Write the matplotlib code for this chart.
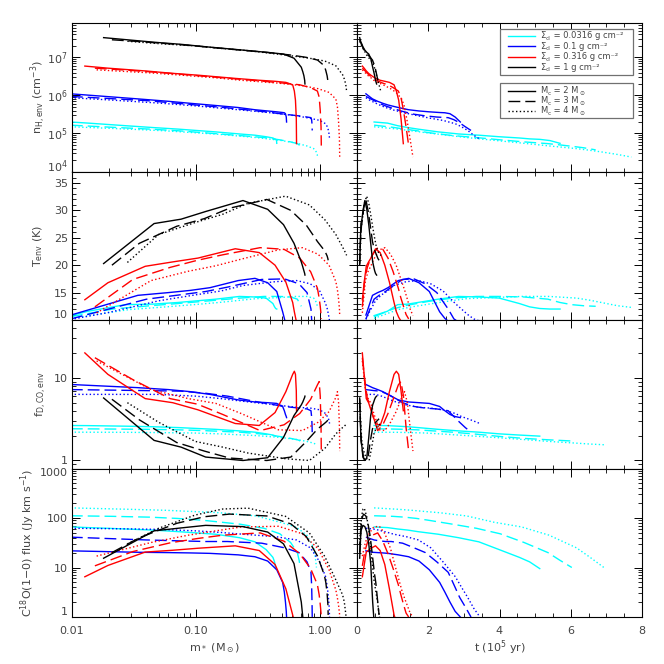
import numpy as np
import matplotlib
matplotlib.use('Agg')
import matplotlib.pyplot as plt
from matplotlib.ticker import (FixedLocator, FixedFormatter, LogLocator, MultipleLocator,
                               NullFormatter, LogFormatterMathtext, FormatStrFormatter)
from matplotlib.lines import Line2D
from matplotlib.patches import Rectangle

nan = np.nan

# ---------------- data: Sigma_cl = 1 g cm^-2 (black) ----------------
S4_M2_t = [0.075, 0.11, 0.14, 0.165, 0.22, 0.275, 0.33, 0.385, 0.44, 0.47, 0.495, 0.52, 0.55]
S4_M2_m = [0.018, 0.046, 0.076, 0.12, 0.24, 0.38, 0.51, 0.62, 0.71, 0.73, 0.745, 0.756, 0.76]
S4_M2_n = [3.3e7, 2.5e7, 2.2e7, 1.9e7, 1.55e7, 1.35e7, 1.22e7, 9.5e6, 5.5e6, 4.2e6, 3.3e6, 2.5e6, 2.0e6]
S4_M2_T = [20.3, 27.6, 28.4, 29.8, 31.8, 30.2, 27.4, 24.0, 20.6, 19.7, 19.0, 18.5, 18.2]
S4_M2_f = [5.7, 1.75, 1.45, 1.1, 1.0, 1.08, 1.9, 3.5, 4.7, 5.1, 5.5, 5.8, 6.0]
S4_M2_F = [15.4, 55, 63, 71, 67, 52, 30, 12, 2.0, 1.0, 0.7, 0.5, 0.4]

S4_M3_t = [0.075, 0.093, 0.124, 0.155, 0.186, 0.248, 0.31, 0.372, 0.434, 0.496, 0.527, 0.558, 0.589, 0.62]
S4_M3_m = [0.021, 0.035, 0.07, 0.117, 0.187, 0.374, 0.585, 0.78, 0.96, 1.09, 1.12, 1.147, 1.164, 1.17]
S4_M3_n = [2.9e7, 2.6e7, 2.2e7, 1.9e7, 1.65e7, 1.35e7, 1.15e7, 1.0e7, 8.5e6, 6.0e6, 4.5e6, 3.3e6, 2.4e6, 2.0e6]
S4_M3_T = [20.0, 24.0, 27.1, 28.5, 30.4, 32.0, 30.0, 27.3, 24.3, 22.7, 22.2, 21.7, 21.2, 20.9]
S4_M3_f = [5.5, 3.1, 1.65, 1.3, 1.07, 1.0, 1.1, 1.7, 2.4, 2.8, 2.9, 3.0, 3.1, 3.2]
S4_M3_F = [20, 40, 78, 106, 120, 110, 76, 42, 17, 7, 5, 3, 1.8, 1.1]

S4_M4_t = [0.075, 0.102, 0.136, 0.17, 0.204, 0.272, 0.34, 0.408, 0.476, 0.544, 0.578, 0.612, 0.646, 0.68]
S4_M4_m = [0.028, 0.05, 0.099, 0.165, 0.264, 0.53, 0.825, 1.1, 1.35, 1.53, 1.58, 1.62, 1.64, 1.65]
S4_M4_n = [2.65e7, 2.3e7, 2.0e7, 1.7e7, 1.5e7, 1.15e7, 9.5e6, 8.0e6, 6.0e6, 3.5e6, 2.7e6, 2.0e6, 1.5e6, 1.2e6]
S4_M4_T = [20.5, 25.6, 27.8, 29.3, 31.3, 32.6, 31.0, 28.3, 25.6, 23.3, 22.7, 22.2, 21.9, 21.8]
S4_M4_f = [5.0, 2.9, 1.7, 1.45, 1.23, 1.05, 1.0, 1.4, 2.1, 2.5, 2.6, 2.7, 2.75, 2.8]
S4_M4_F = [30, 62, 115, 152, 158, 108, 50, 16.6, 5.6, 2.8, 2.0, 1.2, 0.9, 0.7]

# ---------------- Sigma_cl = 0.316 g cm^-2 (red) ----------------
S3_M2_t = [0.15, 0.2, 0.26, 0.325, 0.39, 0.52, 0.65, 0.78, 0.91, 1.04, 1.105, 1.17, 1.235, 1.3]
S3_M2_m = [0.0127, 0.0195, 0.039, 0.065, 0.104, 0.208, 0.325, 0.436, 0.533, 0.605, 0.624, 0.637, 0.647, 0.65]
S3_M2_n = [5.9e6, 5.2e6, 4.4e6, 3.8e6, 3.4e6, 2.8e6, 2.5e6, 2.35e6, 2.2e6, 1.9e6, 1.3e6, 7.5e5, 2.5e5, 5.4e4]
S3_M2_T = [13.7, 16.8, 19.8, 20.6, 21.3, 23.0, 22.3, 20.0, 16.9, 13.2, 11.5, 10.5, 9.8, 9.5]
S3_M2_f = [20.0, 11.0, 5.6, 5.0, 4.1, 2.8, 2.65, 3.8, 6.8, 11.0, 12.0, 11.0, 7.0, 4.0]
S3_M2_F = [6.5, 11.0, 20.5, 22.3, 24.5, 27.4, 22.0, 11.5, 3.7, 1.1, 0.8, 0.6, 0.5, 0.4]

S3_M3_t = [0.15, 0.2175, 0.29, 0.3625, 0.435, 0.58, 0.725, 0.87, 1.015, 1.16, 1.2325, 1.305, 1.3775, 1.45]
S3_M3_m = [0.0153, 0.031, 0.062, 0.103, 0.165, 0.33, 0.515, 0.69, 0.845, 0.958, 0.99, 1.01, 1.025, 1.03]
S3_M3_n = [5.2e6, 4.5e6, 3.8e6, 3.3e6, 2.9e6, 2.4e6, 2.1e6, 1.9e6, 1.6e6, 1.3e6, 9e5, 4e5, 1.5e5, 4.8e4]
S3_M3_T = [12.4, 17.4, 19.6, 20.9, 21.9, 23.2, 22.9, 21.3, 18.8, 15.8, 14.0, 12.5, 11.0, 10.2]
S3_M3_f = [17.5, 9.5, 5.6, 4.8, 3.6, 2.3, 2.7, 3.7, 5.5, 8.2, 9.0, 6.0, 2.5, 1.3]
S3_M3_F = [10.8, 21, 31.5, 38.5, 45, 50, 34, 19, 9.5, 4.5, 2.8, 1.8, 1.2, 1.0]

S3_M4_t = [0.15, 0.2355, 0.314, 0.3925, 0.471, 0.628, 0.785, 0.942, 1.099, 1.256, 1.3345, 1.413, 1.4915, 1.57]
S3_M4_m = [0.0158, 0.0435, 0.087, 0.145, 0.232, 0.464, 0.725, 0.97, 1.19, 1.35, 1.39, 1.42, 1.443, 1.45]
S3_M4_n = [4.7e6, 3.9e6, 3.3e6, 2.9e6, 2.5e6, 2.1e6, 1.8e6, 1.5e6, 1.2e6, 8e5, 5e5, 2e5, 7e4, 2.4e4]
S3_M4_T = [11.3, 17.2, 18.9, 19.9, 21.1, 22.8, 23.2, 22.0, 20.0, 17.0, 15.5, 13.8, 12.0, 10.8]
S3_M4_f = [16.0, 7.2, 5.6, 4.9, 3.7, 2.35, 2.3, 2.9, 3.9, 5.8, 6.8, 5.0, 2.5, 1.3]
S3_M4_F = [17, 32, 45, 55, 66, 68, 48, 24, 9.0, 3.5, 2.4, 1.7, 1.2, 1.0]

# ---------------- Sigma_cl = 0.1 g cm^-2 (blue) ----------------
S2_M2_t = [0.25, 0.435, 0.58, 0.725, 0.87, 1.16, 1.45, 1.74, 2.03, 2.32, 2.465, 2.61, 2.755, 2.9]
S2_M2_m = [0.0098, 0.034, 0.06, 0.09, 0.13, 0.22, 0.3, 0.38, 0.45, 0.502, 0.518, 0.529, 0.537, 0.54]
S2_M2_n = [1.1e6, 8.1e5, 7.0e5, 6.2e5, 5.6e5, 4.8e5, 4.2e5, 3.9e5, 3.7e5, 3.55e5, 3.5e5, 3.3e5, 2.7e5, 2.0e5]
S2_M2_T = [10.9, 14.5, 15.0, 15.4, 15.9, 17.2, 17.6, 16.8, 15.2, 11.5, 10.3, 9.5, 9.0, 8.5]
S2_M2_f = [8.3, 7.6, 7.2, 6.8, 6.3, 5.4, 5.1, 5.0, 4.9, 4.5, 4.0, 3.6, 3.4, 3.3]
S2_M2_F = [21.7, 20.3, 20.0, 19.7, 19.3, 18.0, 16.5, 13.5, 9.0, 5.0, 3.2, 2.0, 1.3, 1.0]

S2_M3_t = [0.25, 0.48, 0.64, 0.8, 0.96, 1.28, 1.6, 1.92, 2.24, 2.56, 2.72, 2.88, 3.04, 3.2]
S2_M3_m = [0.0098, 0.04, 0.075, 0.12, 0.18, 0.34, 0.52, 0.68, 0.79, 0.85, 0.86, 0.865, 0.868, 0.87]
S2_M3_n = [9.4e5, 7.3e5, 6.1e5, 5.3e5, 4.7e5, 3.8e5, 3.2e5, 2.9e5, 2.7e5, 2.6e5, 2.3e5, 1.9e5, 1.5e5, 1.2e5]
S2_M3_T = [10.2, 13.8, 14.6, 15.2, 16.0, 17.4, 17.5, 16.6, 15.0, 12.0, 10.2, 9.5, 9.0, 8.5]
S2_M3_f = [7.2, 7.0, 6.9, 6.5, 6.0, 5.0, 4.5, 4.3, 4.2, 4.0, 3.4, 2.9, 2.5, 2.2]
S2_M3_F = [41, 36, 34.5, 33.5, 33.5, 31, 25, 20, 13, 8, 4.5, 2.5, 1.6, 1.0]

S2_M4_t = [0.25, 0.345, 0.5175, 0.69, 0.8625, 1.035, 1.38, 1.725, 2.07, 2.415, 2.76, 2.9325, 3.105, 3.2775, 3.45]
S2_M4_m = [0.0098, 0.02, 0.05, 0.1, 0.16, 0.24, 0.44, 0.65, 0.84, 1.0, 1.116, 1.152, 1.176, 1.194, 1.2]
S2_M4_n = [8.7e5, 7.6e5, 6.3e5, 5.3e5, 4.6e5, 4.1e5, 3.4e5, 2.9e5, 2.5e5, 2.2e5, 1.8e5, 1.5e5, 1.2e5, 9e4, 7e4]
S2_M4_T = [10.1, 11.4, 13.5, 14.6, 15.3, 16.3, 17.0, 17.2, 16.6, 15.3, 13.0, 12.0, 11.0, 10.2, 9.8]
S2_M4_f = [6.3, 6.3, 6.3, 6.0, 5.6, 5.2, 4.7, 4.4, 4.3, 4.1, 3.7, 3.4, 3.2, 3.0, 2.8]
S2_M4_F = [62, 61, 59, 55, 51, 47, 42, 36, 25, 13, 6.5, 4.0, 2.5, 1.5, 1.0]

# ---------------- Sigma_cl = 0.0316 g cm^-2 (cyan) ----------------
S1_M2_t = [0.48, 0.855, 1.14, 1.425, 1.71, 2.28, 2.85, 3.42, 3.99, 4.56, 4.845, 5.13, 5.415, 5.7]
S1_M2_m = [0.0098, 0.0135, 0.027, 0.045, 0.072, 0.144, 0.225, 0.3, 0.369, 0.419, 0.432, 0.441, 0.448, 0.45]
S1_M2_n = [2.0e5, 1.87e5, 1.6e5, 1.43e5, 1.3e5, 1.1e5, 9.7e4, 9.0e4, 8.2e4, 7.6e4, 7.2e4, 7.0e4, 6.5e4, 5.5e4]
S1_M2_T = [10.8, 11.6, 12.8, 12.9, 13.2, 13.8, 14.3, 14.2, 14.0, 13.0, 12.4, 12.1, 12.0, 12.0]
S1_M2_f = [2.65, 2.64, 2.6, 2.56, 2.5, 2.38, 2.28, 2.2, 2.1, 2.03, 2.0, 1.97, nan, nan]
S1_M2_F = [66, 64, 60, 57, 53, 47, 40, 33, 23, 16, 13, 9.5, nan, nan]

S1_M3_t = [0.48, 1.005, 1.34, 1.675, 2.01, 2.68, 3.35, 4.02, 4.69, 5.36, 5.695, 6.03, 6.365, 6.7]
S1_M3_m = [0.0098, 0.0213, 0.0426, 0.071, 0.114, 0.227, 0.355, 0.476, 0.582, 0.66, 0.682, 0.696, 0.706, 0.71]
S1_M3_n = [1.65e5, 1.45e5, 1.3e5, 1.18e5, 1.05e5, 8.8e4, 7.8e4, 6.8e4, 6.0e4, 5.4e4, 5.0e4, 4.6e4, 4.2e4, 3.7e4]
S1_M3_T = [10.6, 12.0, 12.6, 13.0, 13.4, 14.0, 14.3, 14.3, 14.2, 13.8, 13.2, 12.8, 12.6, 12.5]
S1_M3_f = [2.42, 2.4, 2.38, 2.35, 2.3, 2.2, 2.08, 1.95, 1.85, 1.78, 1.75, 1.72, nan, nan]
S1_M3_F = [111, 108, 104, 98, 90, 75, 62, 48, 32, 20, 14, 10, nan, nan]

S1_M4_t = [0.48, 1.155, 1.54, 1.925, 2.31, 3.08, 3.85, 4.62, 5.39, 6.16, 6.545, 6.93, 7.315, 7.7]
S1_M4_m = [0.0098, 0.0288, 0.0576, 0.096, 0.154, 0.307, 0.48, 0.643, 0.787, 0.893, 0.922, 0.941, 0.955, 0.96]
S1_M4_n = [1.5e5, 1.3e5, 1.17e5, 1.05e5, 9.5e4, 7.8e4, 6.6e4, 5.6e4, 4.7e4, 4.0e4, 3.6e4, 3.2e4, 2.8e4, 2.4e4]
S1_M4_T = [10.3, 11.9, 12.4, 12.8, 13.2, 13.9, 14.1, 14.3, 14.3, 14.0, 13.6, 13.1, 12.6, 12.3]
S1_M4_f = [2.2, 2.19, 2.17, 2.15, 2.1, 2.0, 1.9, 1.8, 1.7, 1.62, 1.58, 1.55, nan, nan]
S1_M4_F = [160, 150, 143, 135, 128, 110, 82, 66, 45, 25, 16, 10, nan, nan]

sigma_labels = ['0.0316', '0.1', '0.316', '1']
mc_labels = ['2', '3', '4']

# ---------------- style ----------------
plt.rcParams['font.family'] = ['DejaVu Sans']
plt.rcParams['mathtext.fontset'] = 'dejavusans'
plt.rcParams['lines.scale_dashes'] = False
TXT = '#444444'
colors = ['#00FFFF', '#0000FF', '#FF0000', '#000000']
lstyles = ['-', (0, (8.5, 3.6)), (0, (1.0, 1.7))]

models = [
    (S1_M2_t, S1_M2_m, [S1_M2_n, S1_M2_T, S1_M2_f, S1_M2_F], 0, 0),
    (S1_M3_t, S1_M3_m, [S1_M3_n, S1_M3_T, S1_M3_f, S1_M3_F], 0, 1),
    (S1_M4_t, S1_M4_m, [S1_M4_n, S1_M4_T, S1_M4_f, S1_M4_F], 0, 2),
    (S2_M2_t, S2_M2_m, [S2_M2_n, S2_M2_T, S2_M2_f, S2_M2_F], 1, 0),
    (S2_M3_t, S2_M3_m, [S2_M3_n, S2_M3_T, S2_M3_f, S2_M3_F], 1, 1),
    (S2_M4_t, S2_M4_m, [S2_M4_n, S2_M4_T, S2_M4_f, S2_M4_F], 1, 2),
    (S3_M2_t, S3_M2_m, [S3_M2_n, S3_M2_T, S3_M2_f, S3_M2_F], 2, 0),
    (S3_M3_t, S3_M3_m, [S3_M3_n, S3_M3_T, S3_M3_f, S3_M3_F], 2, 1),
    (S3_M4_t, S3_M4_m, [S3_M4_n, S3_M4_T, S3_M4_f, S3_M4_F], 2, 2),
    (S4_M2_t, S4_M2_m, [S4_M2_n, S4_M2_T, S4_M2_f, S4_M2_F], 3, 0),
    (S4_M3_t, S4_M3_m, [S4_M3_n, S4_M3_T, S4_M3_f, S4_M3_F], 3, 1),
    (S4_M4_t, S4_M4_m, [S4_M4_n, S4_M4_T, S4_M4_f, S4_M4_F], 3, 2),
]

fig = plt.figure(figsize=(6.64, 6.64), dpi=100)
FW = 664.0
W = 285 / FW
H = 148.5 / FW
xL = 72 / FW
xR = 357 / FW
top0 = 23.0

axesL, axesR = [], []
for r in range(4):
    b = 1 - (top0 + H * FW * (r + 1)) / FW
    axesL.append(fig.add_axes([xL, b, W, H]))
    axesR.append(fig.add_axes([xR, b, W, H]))

for (t, m, ys, ci, li) in models:
    for r in range(4):
        axesL[r].plot(m, ys[r], color=colors[ci], linestyle=lstyles[li], lw=1.0)
        axesR[r].plot(t, ys[r], color=colors[ci], linestyle=lstyles[li], lw=1.0)

ylims = [(1e4, 8e7), (10, 37.1), (0.8, 50), (1, 1000)]
for r in range(4):
    for ax in (axesL[r], axesR[r]):
        for sp in ax.spines.values():
            sp.set_linewidth(0.8)
        ax.tick_params(which='both', direction='in', top=True, right=True,
                       labelcolor=TXT, labelsize=8)
        ax.tick_params(which='major', length=6, width=0.7)
        ax.tick_params(which='minor', length=3, width=0.6)
        ax.tick_params(axis='x', pad=6.5)
        ax.tick_params(axis='y', pad=3)
        if r == 1:
            ax.set_ylim(*ylims[r])
            ax.yaxis.set_major_locator(MultipleLocator(5))
            ax.yaxis.set_minor_locator(MultipleLocator(1))
            ax.yaxis.set_major_formatter(FormatStrFormatter('%d'))
        else:
            ax.set_yscale('log')
            ax.set_ylim(*ylims[r])
            ax.yaxis.set_minor_locator(LogLocator(base=10, subs=np.arange(2, 10), numticks=20))
            if r == 0:
                ax.yaxis.set_major_locator(FixedLocator([1e4, 1e5, 1e6, 1e7]))
                ax.yaxis.set_major_formatter(LogFormatterMathtext())
            elif r == 2:
                ax.yaxis.set_major_locator(FixedLocator([1, 10]))
                ax.yaxis.set_major_formatter(FixedFormatter(['1', '10']))
            else:
                ax.yaxis.set_major_locator(FixedLocator([1, 10, 100, 1000]))
                ax.yaxis.set_major_formatter(FixedFormatter(['1', '10', '100', '1000']))
            ax.yaxis.set_minor_formatter(NullFormatter())
    aL = axesL[r]
    aL.set_xscale('log')
    aL.set_xlim(0.01, 2.0)
    aL.xaxis.set_major_locator(FixedLocator([0.01, 0.1, 1.0]))
    aL.xaxis.set_minor_locator(LogLocator(base=10, subs=np.arange(2, 10), numticks=20))
    aL.xaxis.set_minor_formatter(NullFormatter())
    aR = axesR[r]
    aR.set_xlim(0, 8)
    aR.xaxis.set_major_locator(MultipleLocator(2))
    aR.xaxis.set_minor_locator(MultipleLocator(0.5))
    aR.tick_params(axis='y', labelleft=False)
    if r == 3:
        aL.xaxis.set_major_formatter(FixedFormatter(['0.01', '0.10', '1.00']))
        aR.xaxis.set_major_formatter(FormatStrFormatter('%d'))
    else:
        aL.xaxis.set_major_formatter(NullFormatter())
        aR.xaxis.set_major_formatter(NullFormatter())

# y labels
ylabels = [r'n$_{\rm H,env}$ (cm$^{-3}$)', r'T$_{\rm env}$ (K)', r'f$_{\rm D,CO,env}$',
           r'C$^{18}$O(1$-$0) flux (Jy km s$^{-1}$)']
ylab_px = [38, 38, 41, 28]
for r in range(4):
    ax = axesL[r]
    ax.set_ylabel(ylabels[r], fontsize=8, color=TXT)
    ax.yaxis.label.set_va('center')
    ax.yaxis.set_label_coords((ylab_px[r] - 72) / 285.0, 0.5)

for ax, lab in ((axesL[3], r'm$_*$ (M$_\odot$)'), (axesR[3], r't (10$^5$ yr)')):
    ax.set_xlabel(lab, fontsize=8, color=TXT)
    ax.xaxis.label.set_va('center')
    ax.xaxis.set_label_coords(0.5, -31 / 148.5)

# nudge end labels like the reference
fig.canvas.draw()
renderer = fig.canvas.get_renderer()
for tk in axesL[0].yaxis.get_major_ticks():
    if abs(tk.get_loc() - 1e4) < 1e-3:
        tk.label1.set_va('baseline')
for tk in axesL[1].yaxis.get_major_ticks():
    if abs(tk.get_loc() - 10) < 1e-6:
        tk.label1.set_va('bottom')
for tk in axesL[3].yaxis.get_major_ticks():
    if abs(tk.get_loc() - 1000) < 1e-6:
        tk.label1.set_va('top')
    if abs(tk.get_loc() - 1) < 1e-6:
        tk.label1.set_va('bottom')

# ---------------- legends, in figure pixel coordinates ----------------
def fpx(px, py):
    return px / FW, 1 - py / FW

def box(x0, y0, x1, y1):
    a = fpx(x0, y1)
    fig.add_artist(Rectangle(a, (x1 - x0) / FW, (y1 - y0) / FW, transform=fig.transFigure,
                             fill=True, fc='white', ec='#707070', lw=0.9, zorder=5))

def chain(px, py, pieces):
    for s, fs, dy in pieces:
        x, y = fpx(px, py + dy)
        t = fig.text(x, y, s, fontsize=fs, va='baseline', ha='left', color=TXT, zorder=6)
        px += t.get_window_extent(renderer).width + 0.4

LFS = 6.0
SFS = 4.2
box(500, 29, 632.7, 75)
rows1 = [35.5, 46.0, 56.5, 67.0]
for i, py in enumerate(rows1):
    fig.add_artist(Line2D([508 / FW, 535 / FW], [1 - py / FW] * 2, color=colors[i], lw=1.0,
                          transform=fig.transFigure, zorder=6))
    base = py + 2.8
    chain(540, base, [('\u03a3', LFS, 0), ('cl', SFS, 1.6),
                      (' = ' + sigma_labels[i] + ' g cm\u207b\u00b2', LFS, 0)])

box(500, 83, 632.7, 118)
rows2 = [90.5, 100.5, 110.5]
for i, py in enumerate(rows2):
    fig.add_artist(Line2D([508 / FW, 535 / FW], [1 - py / FW] * 2, color='k', lw=1.0,
                          linestyle=lstyles[i], transform=fig.transFigure, zorder=6))
    base = py + 2.8
    chain(540, base, [('M', LFS, 0), ('c', SFS, 1.6), (' = ' + mc_labels[i] + ' M', LFS, 0),
                      ('\u2299', SFS, 1.6)])

fig.savefig('out.png', dpi=100)
